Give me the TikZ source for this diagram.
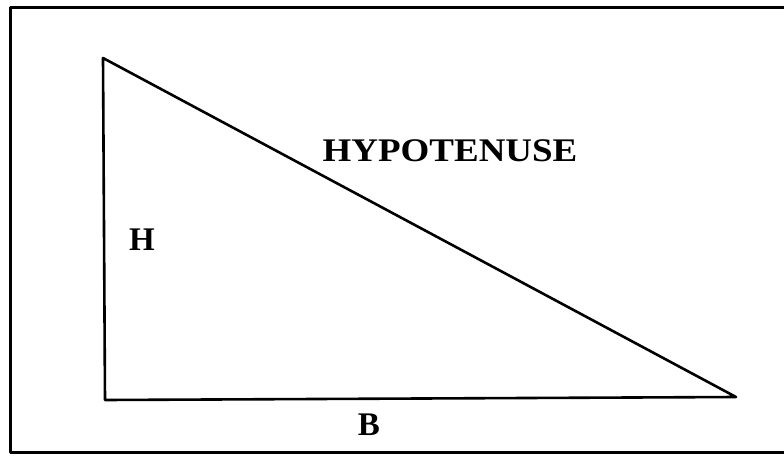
\documentclass[tikz,border=0pt]{standalone}
\usepackage{fontspec}
\usepackage{graphicx}
\setmainfont{Liberation Serif}
\begin{document}
\begin{tikzpicture}[x=1pt,y=-1pt,line join=round,line cap=round]
		\useasboundingbox (0,0) rectangle (784,455);
		\tikzset{khung/.style={line width=3pt},
		canh/.style={line width=2.6pt},
		nhan/.style={font=\fontsize{33}{33}\selectfont\bfseries,inner sep=0pt,anchor=base}}
		\draw[khung] (790,7)--(10,7)--(10,452)--(790,452);%khung
		\path
		(103,58) coordinate (A)
		(105,400) coordinate (C)
		(736,397) coordinate (B);
		\draw[canh] (A)--(C)--(B)--cycle;
		\node[nhan] (huyen) at (450,161) {\scalebox{1.12}[1]{HYPOTENUSE}};
		\node[nhan] (cao) at (142,250) {H};
		\node[nhan] (day) at (369,435) {B};
	\end{tikzpicture}
\end{document}
